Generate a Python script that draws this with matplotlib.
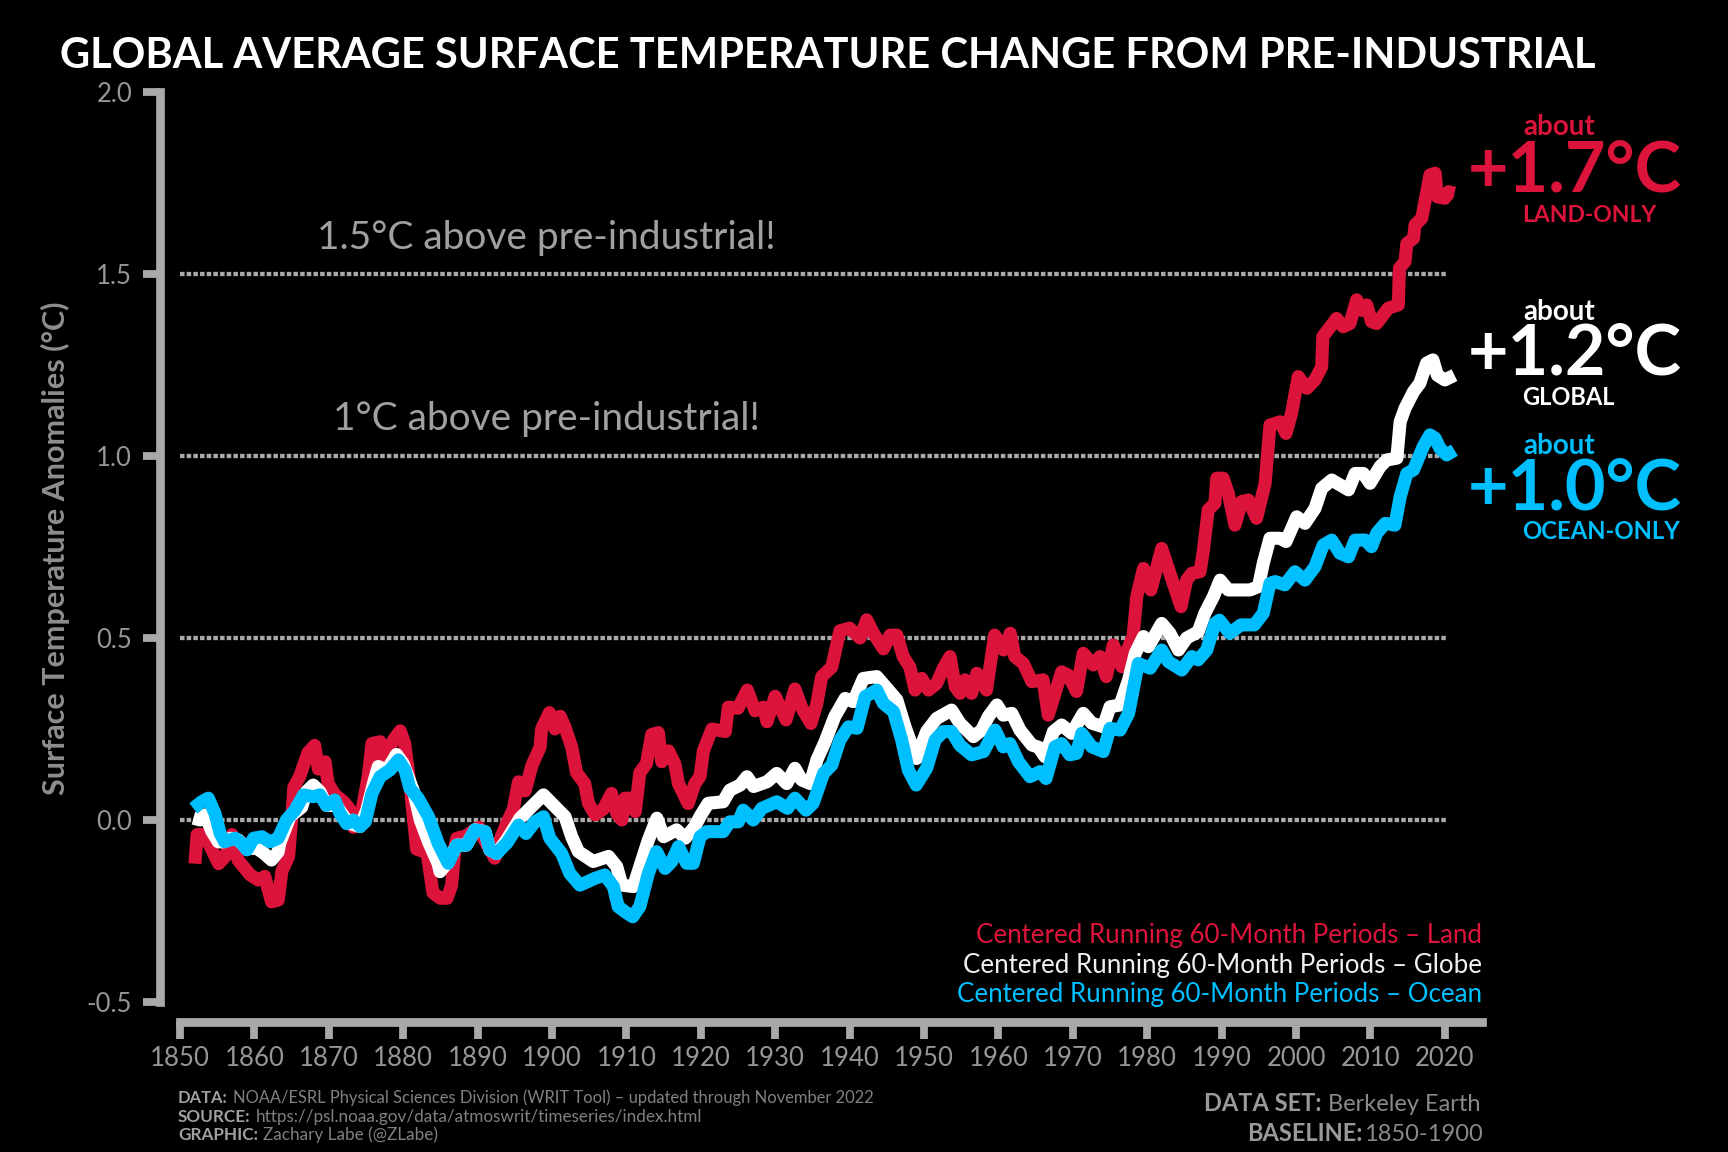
import matplotlib
matplotlib.use("Agg")
import matplotlib.pyplot as plt

land_years = [1852.0,1852.3,1853.1,1854.0,1855.2,1856.1,1857.0,1857.8,1859.4,1860.5,1861.4,1862.3,1863.2,1863.7,1864.6,1865.0,1865.3,1866.1,1867.2,1868.1,1868.6,1869.5,1869.9,1870.8,1872.0,1872.8,1873.3,1874.4,1875.3,1875.8,1876.9,1877.3,1878.7,1879.6,1880.2,1880.9,1881.8,1883.2,1884.0,1885.0,
 1885.9,1886.5,1887.0,1887.2,1888.3,1889.4,1890.2,1890.8,1892.3,1893.2,1893.9,1894.8,1895.5,1896.4,1897.3,1898.4,1898.6,1899.65,1900.4,1901.1,1901.75,1902.65,1903.3,1904.4,1904.9,1905.8,1906.9,1908.0,1908.7,1909.4,1909.8,1910.5,1911.2,1911.8,1912.7,1913.4,1914.3,1914.75,1915.65,1916.5,1917.0,1918.3,1919.2,1919.9,
 1920.35,1921.5,1923.3,1923.7,1925.0,1926.25,1927.3,1928.4,1928.9,1930.0,1931.45,1932.65,1933.6,1934.8,1935.6,1936.25,1937.6,1938.7,1940.0,1941.4,1942.3,1943.2,1944.55,1945.45,1946.35,1947.2,1948.1,1948.8,1949.7,1950.6,1951.7,1952.6,1953.5,1954.2,1954.85,
 1955.5,1956.4,1957.1,1958.4,1959.5,1960.7,1961.6,1962.2,1963.35,1964.5,1966.0,1966.7,1967.6,1968.5,1969.4,1970.5,1971.4,1972.75,1973.65,1974.5,1975.45,1976.6,1977.5,1978.1,1978.6,1979.5,1980.5,1981.95,1983.5,1984.55,1985.3,1986.0,1987.1,
 1987.55,1988.2,1989.1,1989.35,1990.2,1990.9,1991.8,1992.7,1993.6,1994.7,1995.85,1996.5,1997.85,1998.65,1999.4,2000.3,2001.45,2002.55,2003.45,2003.6,2004.8,2005.45,2006.35,2007.25,2008.15,2008.8,2009.5,2010.15,2010.85,2012.4,2013.75,2013.9,2014.65,2014.9,2015.8,2016.0,2016.9,2017.55,2018.0,2018.7,2019.0,2020.0,2020.5,2021.3]
land_vals = [-0.12,-0.04,-0.04,-0.07,-0.12,-0.10,-0.04,-0.11,-0.15,-0.165,-0.155,-0.225,-0.22,-0.14,-0.10,0.0,0.09,0.12,0.185,0.205,0.14,0.16,0.10,0.07,0.05,0.03,-0.02,0.02,0.12,0.21,0.215,0.165,0.22,0.245,0.21,0.10,-0.08,-0.09,-0.20,-0.215,
 -0.215,-0.18,-0.07,-0.05,-0.045,-0.03,-0.02,-0.05,-0.105,-0.045,-0.01,0.03,0.105,0.08,0.15,0.20,0.25,0.295,0.25,0.285,0.255,0.20,0.13,0.10,0.046,0.014,0.03,0.073,0.018,0.0,0.06,0.06,0.023,0.13,0.155,0.235,0.24,0.16,0.19,0.155,0.10,0.045,0.10,0.12,
 0.19,0.25,0.243,0.31,0.307,0.357,0.30,0.31,0.27,0.34,0.275,0.36,0.307,0.265,0.32,0.394,0.42,0.52,0.527,0.50,0.55,0.513,0.47,0.508,0.508,0.449,0.42,0.357,0.389,0.357,0.375,0.417,0.449,0.366,0.348,
 0.385,0.348,0.403,0.357,0.508,0.467,0.513,0.449,0.43,0.38,0.385,0.288,0.348,0.407,0.398,0.353,0.458,0.426,0.449,0.394,0.481,0.421,0.476,0.504,0.614,0.691,0.632,0.746,0.65,0.586,0.659,0.678,0.682,
 0.74,0.852,0.87,0.939,0.939,0.897,0.81,0.875,0.879,0.829,0.925,1.085,1.094,1.062,1.117,1.218,1.186,1.209,1.245,1.328,1.36,1.378,1.355,1.364,1.429,1.40,1.415,1.369,1.364,1.406,1.415,1.516,1.534,1.584,1.598,1.635,1.653,1.722,1.772,1.777,1.712,1.708,1.726,1.722]

globe_years = [1851.8,1852.7,1853.4,1854.25,1855.15,1855.8,1856.8,1857.85,1859.0,1860.3,1861.2,1862.3,1863.2,1863.4,1864.8,1866.35,1867.0,1867.9,1868.8,1869.7,1871.0,1872.0,1872.85,1874.2,1875.1,1876.0,1876.65,1877.8,1879.1,1880.0,1881.4,1882.3,1883.4,1884.7,
 1884.95,1886.0,1887.2,1888.5,1889.65,1891.0,1891.65,1892.55,1893.9,1895.7,1897.27,1898.85,1900.4,1901.75,1902.65,1903.55,1905.55,1907.6,1908.7,1909.4,1910.95,1911.8,1912.95,1914.1,1915.0,1916.75,1917.9,1919.2,1919.9,
 1921.0,1923.0,1923.9,1925.3,1926.2,1927.1,1928.9,1930.2,1931.55,1932.65,1933.55,1934.7,1935.6,1936.7,1938.0,1939.4,1940.5,1941.85,1943.65,1945.0,1946.35,1947.45,1949.0,1950.35,1951.7,1953.7,1954.85,
 1956.65,1957.75,1958.65,1959.8,1960.65,1961.8,1962.9,1964.5,1965.4,1966.25,1967.4,1968.5,1969.85,1971.4,1972.55,1974.1,1975.0,1976.35,1977.5,1978.4,1979.5,1980.15,1981.95,1983.05,1984.2,1985.3,1986.85,1987.75,1988.9,1989.8,
 1990.9,1992.5,1993.8,1994.95,1995.6,1996.5,1997.85,1998.65,2000.1,2001.2,2002.55,2003.45,2004.8,2007.05,2007.95,2009.05,2009.95,2011.3,2012.2,2013.55,2014.0,2014.65,2015.8,2016.65,2017.55,2018.4,2019.0,2020.0,2021.3]
globe_vals = [0.005,0.0,0.014,-0.03,-0.06,-0.06,-0.05,-0.055,-0.078,-0.078,-0.09,-0.11,-0.087,-0.064,0.01,0.035,0.078,0.096,0.078,0.04,0.04,0.01,-0.01,-0.018,0.027,0.10,0.147,0.137,0.18,0.155,0.078,0.0,-0.06,-0.12,
 -0.142,-0.115,-0.069,-0.069,-0.027,-0.032,-0.082,-0.092,-0.055,0.005,0.037,0.069,0.037,0.009,-0.046,-0.087,-0.114,-0.10,-0.128,-0.179,-0.183,-0.128,-0.055,0.005,-0.046,-0.027,-0.05,-0.018,0.01,
 0.046,0.05,0.082,0.096,0.119,0.092,0.105,0.128,0.10,0.142,0.11,0.10,0.165,0.215,0.284,0.334,0.325,0.389,0.394,0.362,0.33,0.256,0.169,0.243,0.279,0.302,0.265,
 0.229,0.247,0.284,0.316,0.288,0.293,0.247,0.206,0.20,0.174,0.243,0.261,0.238,0.293,0.266,0.256,0.311,0.316,0.385,0.458,0.504,0.476,0.54,0.513,0.467,0.50,0.517,0.568,0.614,0.659,
 0.632,0.632,0.632,0.641,0.705,0.774,0.774,0.765,0.833,0.815,0.856,0.911,0.934,0.907,0.952,0.952,0.925,0.971,0.989,0.994,1.094,1.131,1.177,1.20,1.255,1.264,1.222,1.209,1.222]

ocean_years = [1851.8,1852.9,1853.8,1854.7,1855.4,1856.0,1857.4,1858.3,1859.0,1859.9,1861.0,1862.1,1863.2,1864.3,1865.45,1866.6,1867.9,1868.8,1869.7,1870.8,1871.5,1872.4,1873.3,1874.2,1874.9,1875.8,1876.9,1878.2,1879.35,1880.25,1880.9,1882.0,1883.4,1884.7,
 1886.05,1887.2,1888.5,1889.65,1891.0,1891.65,1892.55,1893.9,1895.5,1896.5,1897.7,1898.85,1899.7,1901.3,1902.4,1903.75,1905.8,1907.1,1908.25,1908.9,1909.8,1910.85,1911.8,1912.95,1914.05,1915.2,1916.1,1917.0,1918.1,1919.0,1919.9,
 1920.8,1923.0,1923.9,1925.05,1925.7,1927.05,1928.2,1930.2,1931.65,1932.65,1934.15,1935.1,1936.5,1937.6,1938.7,1939.85,1941.0,1942.1,1943.65,1944.55,1945.9,1947.0,1947.9,1948.95,1950.35,1951.5,1952.6,1953.7,1954.85,
 1956.4,1958.0,1959.55,1960.65,1961.55,1962.7,1964.25,1965.6,1966.4,1967.6,1968.5,1969.6,1970.5,1971.2,1972.55,1974.1,1975.0,1976.35,1977.5,1978.8,1980.4,1981.95,1982.85,1984.65,1986.0,1986.85,1988.0,1989.1,1989.7,
 1991.1,1992.6,1994.4,1995.6,1996.5,1997.2,1998.5,1999.85,2001.2,2002.55,2003.65,2004.8,2005.9,2007.05,2007.95,2009.3,2010.15,2010.85,2012.0,2013.3,2014.0,2014.9,2015.8,2017.1,2018.0,2018.7,2019.35,2020.25,2021.3]
ocean_vals = [0.032,0.05,0.06,0.018,-0.037,-0.06,-0.05,-0.064,-0.082,-0.05,-0.046,-0.06,-0.05,0.0,0.027,0.069,0.064,0.069,0.04,0.055,0.018,-0.01,0.0,-0.018,-0.005,0.073,0.119,0.137,0.165,0.137,0.087,0.06,0.009,-0.064,
 -0.119,-0.069,-0.069,-0.027,-0.032,-0.082,-0.092,-0.064,-0.014,-0.037,-0.005,0.009,-0.05,-0.092,-0.147,-0.179,-0.16,-0.151,-0.183,-0.238,-0.252,-0.266,-0.238,-0.147,-0.087,-0.133,-0.114,-0.073,-0.119,-0.119,-0.046,
 -0.032,-0.032,-0.005,-0.005,0.027,0.0,0.032,0.05,0.032,0.06,0.027,0.046,0.128,0.151,0.22,0.256,0.252,0.339,0.357,0.32,0.298,0.22,0.137,0.096,0.142,0.22,0.243,0.243,0.205,
 0.179,0.188,0.247,0.201,0.21,0.16,0.119,0.133,0.114,0.201,0.21,0.179,0.183,0.238,0.201,0.188,0.252,0.247,0.293,0.43,0.417,0.467,0.435,0.412,0.449,0.44,0.467,0.54,0.549,
 0.513,0.536,0.536,0.568,0.65,0.655,0.646,0.682,0.659,0.696,0.755,0.769,0.733,0.723,0.769,0.769,0.751,0.788,0.815,0.81,0.888,0.952,0.962,1.026,1.058,1.049,1.021,1.003,1.016]

ref_levels = [0.0, 0.5, 1.0, 1.5]
ref_extent = [1850, 2020.3]
x_ticks = [1850,1860,1870,1880,1890,1900,1910,1920,1930,1940,1950,1960,1970,1980,1990,2000,2010,2020]
y_ticks = [-0.5,0.0,0.5,1.0,1.5,2.0]
callout_values = ["+1.7°C", "+1.2°C", "+1.0°C"]
callout_names = ["LAND-ONLY", "GLOBAL", "OCEAN-ONLY"]
callout_name_sizes = [16.5, 17, 17.2]

W, H = 1728, 1152
FONT = "Lato"
RED, WHITE, BLUE, GRAY = "#DC143C", "#FFFFFF", "#00BFFF", "#A9A9A9"
plt.rcParams["font.family"] = [FONT, "DejaVu Sans"]

fig = plt.figure(figsize=(W/100, H/100), dpi=100, facecolor="black")
L, R, T, B = 180, 1482, 92, 1002
ax = fig.add_axes([L/W, 1-B/H, (R-L)/W, (B-T)/H], facecolor="black")
ax.set_xlim(1850, 2025)
ax.set_ylim(-0.5, 2.0)
for s in ["top", "right"]:
    ax.spines[s].set_visible(False)
for s in ["left", "bottom"]:
    ax.spines[s].set_color(GRAY)
    ax.spines[s].set_linewidth(6.3)
    ax.spines[s].set_position(("outward", 14.4))
ax.set_xticks(x_ticks)
ax.set_yticks(y_ticks)
ax.set_yticklabels(["%.1f" % v for v in y_ticks])
ax.tick_params(axis="x", color=GRAY, width=5.6, length=12.5, labelcolor="#969696", labelsize=18.5, pad=5)
ax.tick_params(axis="y", color=GRAY, width=5.6, length=12.5, labelcolor="#969696", labelsize=18.5, pad=7.5)

for lv in ref_levels:
    ax.plot(ref_extent, [lv, lv], color=GRAY, lw=3.1, linestyle=(0, (1.05, 0.5)), zorder=1, solid_capstyle="butt", dash_capstyle="butt")
for xs, ys, c, z in [(land_years, land_vals, RED, 3), (globe_years, globe_vals, WHITE, 4), (ocean_years, ocean_vals, BLUE, 5)]:
    ax.plot(xs, ys, color=c, lw=9.4, solid_joinstyle="round", solid_capstyle="butt", zorder=z, clip_on=False)

def put(x, y, s, **kw):
    kw.setdefault("va", "baseline")
    kw.setdefault("ha", "left")
    return fig.text(x/W, 1-y/H, s, **kw)

put(60, 68, "GLOBAL AVERAGE SURFACE TEMPERATURE CHANGE FROM PRE-INDUSTRIAL", color="white", fontsize=30, fontweight="bold")
put(55, 548, "Surface Temperature Anomalies (°C)", color="#8e8e8e", fontsize=22, fontweight="bold", rotation=90, ha="center", va="center")
put(317, 249, "1.5°C above pre-industrial!", color="#a0a0a0", fontsize=28)
put(333, 430, "1°C above pre-industrial!", color="#a0a0a0", fontsize=28)

rows = [(135, 192, 222, RED), (320, 375, 405, WHITE), (454, 509, 539, BLUE)]
for (b1, b2, b3, c), val, name, nsize in zip(rows, callout_values, callout_names, callout_name_sizes):
    put(1523, b1, "about", color=c, fontsize=20, fontweight="bold")
    put(1468, b2, val, color=c, fontsize=50.5, fontweight="bold")
    put(1522, b3, name, color=c, fontsize=nsize, fontweight="bold")

put(1482, 943, "Centered Running 60-Month Periods – Land", color=RED, fontsize=18.6, ha="right")
put(1482, 973, "Centered Running 60-Month Periods – Globe", color="#f0f0f0", fontsize=18.6, ha="right")
put(1482, 1002, "Centered Running 60-Month Periods – Ocean", color=BLUE, fontsize=18.6, ha="right")

fig.canvas.draw()
rend = fig.canvas.get_renderer()
def pair_left(x, y, a, b, size, gap):
    t = put(x, y, a, color="#a0a0a0", fontsize=size, fontweight="bold")
    w = t.get_window_extent(rend).width
    put(x + w + gap, y, b, color="#808080", fontsize=size)
def pair_right(x, y, a, b, size, gap):
    t = put(x, y, b, color="#8a8a8a", fontsize=size, ha="right")
    w = t.get_window_extent(rend).width
    put(x - w - gap, y, a, color="#9a9a9a", fontsize=size, ha="right", fontweight="bold")

pair_left(178, 1103, "DATA:", "NOAA/ESRL Physical Sciences Division (WRIT Tool) – updated through November 2022", 11.9, 5)
pair_left(178, 1122, "SOURCE:", "https://psl.noaa.gov/data/atmoswrit/timeseries/index.html", 12.3, 5)
pair_left(178, 1140, "GRAPHIC:", "Zachary Labe (@ZLabe)", 12.3, 5)
pair_right(1481, 1111, "DATA SET:", "Berkeley Earth", 17, 7)
pair_right(1483, 1141, "BASELINE:", "1850-1900", 17, 2)

fig.savefig("out.png", dpi=100, facecolor="black")
